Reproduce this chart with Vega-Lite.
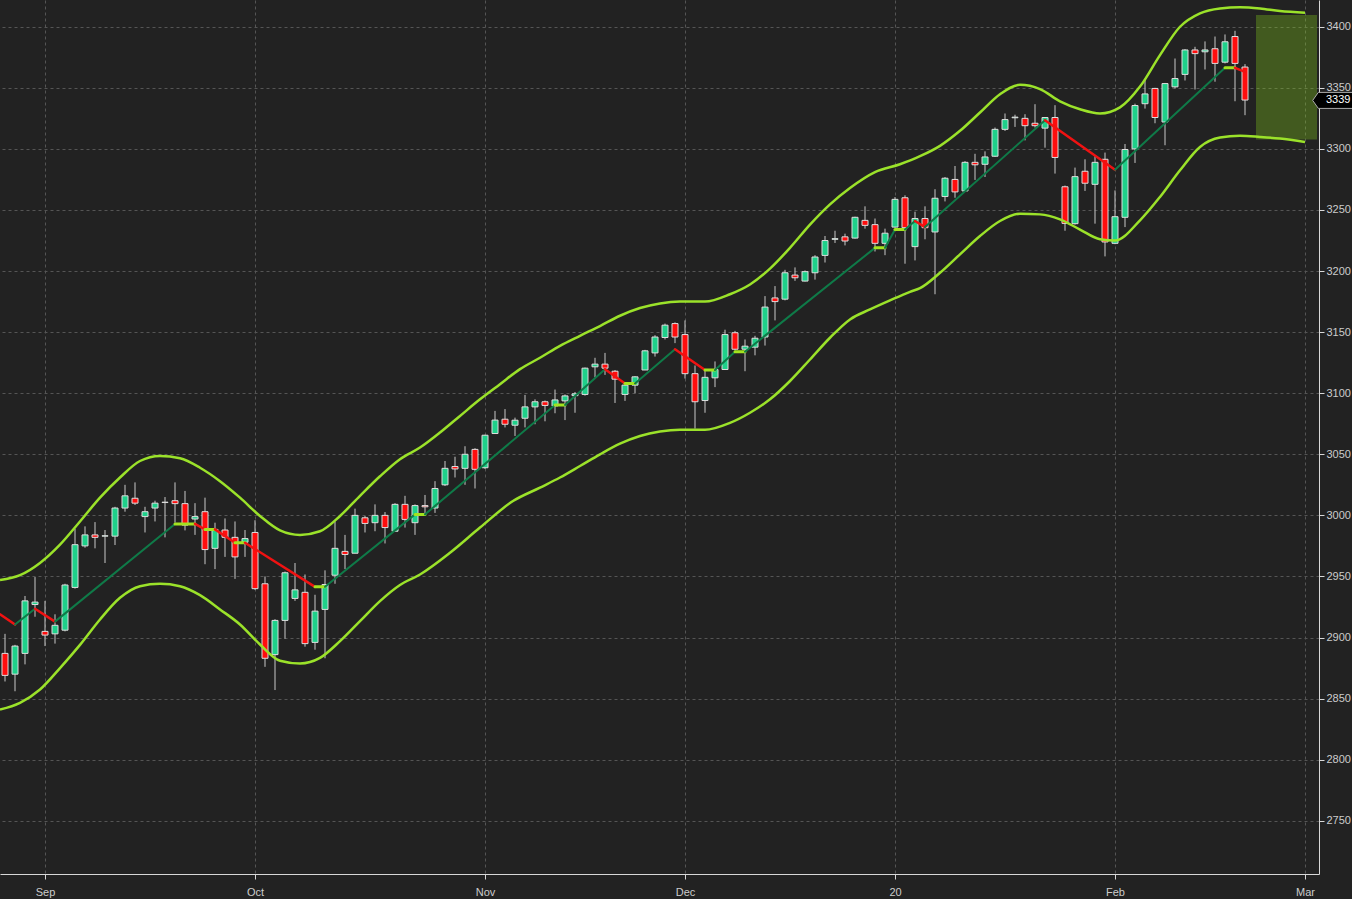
{
  "$schema": "https://vega.github.io/schema/vega-lite/v6.json",
  "width": 1319,
  "height": 874,
  "autosize": {"type": "none"},
  "padding": {"left": 0, "top": 0, "right": 33, "bottom": 25},
  "background": "#222222",
  "config": {
    "view": {"stroke": null},
    "axis": {
      "title": null,
      "grid": true,
      "gridColor": "#555555",
      "gridDash": [3, 3],
      "gridWidth": 1,
      "domainColor": "#d8d8d8",
      "tickColor": "#d8d8d8",
      "tickSize": 5,
      "labelColor": "#cccccc",
      "labelFont": "Liberation Sans",
      "labelFontSize": 11
    }
  },
  "datasets": {
    "candles": [
      {"i": 0, "o": 2887, "h": 2903, "l": 2864, "c": 2869},
      {"i": 1, "o": 2870, "h": 2894, "l": 2856, "c": 2893},
      {"i": 2, "o": 2887, "h": 2934, "l": 2878, "c": 2930},
      {"i": 3, "o": 2927, "h": 2949.5, "l": 2917, "c": 2929},
      {"i": 4, "o": 2905, "h": 2930, "l": 2893, "c": 2902},
      {"i": 5, "o": 2903, "h": 2919, "l": 2895, "c": 2910},
      {"i": 6, "o": 2906, "h": 2944, "l": 2905, "c": 2943},
      {"i": 7, "o": 2941, "h": 2989, "l": 2940, "c": 2976},
      {"i": 8, "o": 2975, "h": 2991, "l": 2973.5, "c": 2984},
      {"i": 9, "o": 2984, "h": 2994.5, "l": 2973, "c": 2982},
      {"i": 10, "o": 2983, "h": 2988, "l": 2961, "c": 2983.3},
      {"i": 11, "o": 2983, "h": 3007, "l": 2975.7, "c": 3006},
      {"i": 12, "o": 3006, "h": 3025, "l": 3003, "c": 3016},
      {"i": 13, "o": 3014, "h": 3027, "l": 3008.5, "c": 3010},
      {"i": 14, "o": 2999, "h": 3007, "l": 2986, "c": 3003},
      {"i": 15, "o": 3006, "h": 3012, "l": 2995, "c": 3010},
      {"i": 16, "o": 3010.5, "h": 3015, "l": 2982, "c": 3010.8},
      {"i": 17, "o": 3012, "h": 3027, "l": 2994, "c": 3009.6},
      {"i": 18, "o": 3009.6, "h": 3020, "l": 2987.7, "c": 2992},
      {"i": 19, "o": 2997, "h": 3010, "l": 2984, "c": 2999},
      {"i": 20, "o": 3003, "h": 3014.5, "l": 2960, "c": 2972},
      {"i": 21, "o": 2973, "h": 2994, "l": 2956, "c": 2988.5},
      {"i": 22, "o": 2988, "h": 2997.5, "l": 2966, "c": 2982},
      {"i": 23, "o": 2982, "h": 2995, "l": 2948, "c": 2966},
      {"i": 24, "o": 2978, "h": 2988, "l": 2966, "c": 2981},
      {"i": 25, "o": 2986, "h": 2996, "l": 2939, "c": 2940},
      {"i": 26, "o": 2944, "h": 2950, "l": 2876, "c": 2883},
      {"i": 27, "o": 2886, "h": 2915, "l": 2857, "c": 2914},
      {"i": 28, "o": 2914, "h": 2954, "l": 2899, "c": 2953},
      {"i": 29, "o": 2932, "h": 2961, "l": 2930, "c": 2939},
      {"i": 30, "o": 2937, "h": 2951.6, "l": 2892.5, "c": 2895},
      {"i": 31, "o": 2896, "h": 2935, "l": 2890, "c": 2921.6},
      {"i": 32, "o": 2923, "h": 2955, "l": 2883, "c": 2943.4},
      {"i": 33, "o": 2951, "h": 2995, "l": 2944, "c": 2973},
      {"i": 34, "o": 2970.5, "h": 2984, "l": 2956, "c": 2968},
      {"i": 35, "o": 2969, "h": 3005.5, "l": 2969, "c": 3000},
      {"i": 36, "o": 2998, "h": 2999.5, "l": 2986, "c": 2993.4},
      {"i": 37, "o": 2994, "h": 3009, "l": 2987, "c": 3000},
      {"i": 38, "o": 3000, "h": 3002.7, "l": 2977, "c": 2990},
      {"i": 39, "o": 2987, "h": 3010, "l": 2986.6, "c": 3009},
      {"i": 40, "o": 3009, "h": 3016, "l": 2990, "c": 2996.7},
      {"i": 41, "o": 2994, "h": 3009, "l": 2984, "c": 3008},
      {"i": 42, "o": 3008, "h": 3016.7, "l": 3001, "c": 3007},
      {"i": 43, "o": 3006, "h": 3028, "l": 3002, "c": 3022},
      {"i": 44, "o": 3025, "h": 3044.5, "l": 3024, "c": 3038.5},
      {"i": 45, "o": 3040, "h": 3048, "l": 3031, "c": 3038},
      {"i": 46, "o": 3038.5, "h": 3056.6, "l": 3025, "c": 3050},
      {"i": 47, "o": 3054, "h": 3055, "l": 3022, "c": 3037.7},
      {"i": 48, "o": 3039, "h": 3066, "l": 3038, "c": 3065.6},
      {"i": 49, "o": 3067, "h": 3085.5, "l": 3067, "c": 3078},
      {"i": 50, "o": 3078.7, "h": 3087, "l": 3072, "c": 3074.6},
      {"i": 51, "o": 3073.8, "h": 3080, "l": 3065, "c": 3077.9},
      {"i": 52, "o": 3079.5, "h": 3098.6, "l": 3072, "c": 3088.8},
      {"i": 53, "o": 3088.8, "h": 3095, "l": 3074.6, "c": 3093},
      {"i": 54, "o": 3093, "h": 3094, "l": 3077, "c": 3090},
      {"i": 55, "o": 3089.6, "h": 3103, "l": 3083.6, "c": 3094.5},
      {"i": 56, "o": 3093.7, "h": 3099, "l": 3078, "c": 3097.8},
      {"i": 57, "o": 3098, "h": 3101, "l": 3084, "c": 3099.5},
      {"i": 58, "o": 3099, "h": 3121, "l": 3098, "c": 3120.5},
      {"i": 59, "o": 3121.6, "h": 3129, "l": 3113, "c": 3123.8},
      {"i": 60, "o": 3123.8, "h": 3133, "l": 3115, "c": 3120.5},
      {"i": 61, "o": 3118, "h": 3119, "l": 3092, "c": 3111.5},
      {"i": 62, "o": 3099, "h": 3108.7, "l": 3093.7, "c": 3106.6},
      {"i": 63, "o": 3106.6, "h": 3114, "l": 3100, "c": 3113.4},
      {"i": 64, "o": 3119, "h": 3135.5, "l": 3119, "c": 3134.7},
      {"i": 65, "o": 3133, "h": 3147.5, "l": 3130, "c": 3146},
      {"i": 66, "o": 3145.6, "h": 3157, "l": 3144, "c": 3155.7},
      {"i": 67, "o": 3157, "h": 3158, "l": 3141, "c": 3146},
      {"i": 68, "o": 3148, "h": 3159.6, "l": 3112, "c": 3116},
      {"i": 69, "o": 3116, "h": 3122.7, "l": 3071, "c": 3093},
      {"i": 70, "o": 3094, "h": 3119, "l": 3084, "c": 3113},
      {"i": 71, "o": 3112.6, "h": 3126, "l": 3105, "c": 3119.4},
      {"i": 72, "o": 3119.4, "h": 3152, "l": 3119, "c": 3148},
      {"i": 73, "o": 3149.5, "h": 3151, "l": 3135, "c": 3136},
      {"i": 74, "o": 3136, "h": 3144, "l": 3118, "c": 3138.5},
      {"i": 75, "o": 3137.7, "h": 3147, "l": 3131, "c": 3145},
      {"i": 76, "o": 3146, "h": 3179.5, "l": 3139, "c": 3170.5},
      {"i": 77, "o": 3178, "h": 3187.7, "l": 3159.6, "c": 3175},
      {"i": 78, "o": 3177, "h": 3201, "l": 3176, "c": 3198.6},
      {"i": 79, "o": 3196.7, "h": 3203, "l": 3192, "c": 3194.5},
      {"i": 80, "o": 3191.8, "h": 3200.5, "l": 3191.5, "c": 3199.5},
      {"i": 81, "o": 3198.6, "h": 3213, "l": 3193, "c": 3211.5},
      {"i": 82, "o": 3212.8, "h": 3228.7, "l": 3207, "c": 3225},
      {"i": 83, "o": 3226, "h": 3233, "l": 3223, "c": 3226.5},
      {"i": 84, "o": 3228, "h": 3230.6, "l": 3221, "c": 3224.6},
      {"i": 85, "o": 3227, "h": 3244.5, "l": 3226.5, "c": 3244},
      {"i": 86, "o": 3241.5, "h": 3253, "l": 3234.7, "c": 3237.4},
      {"i": 87, "o": 3238, "h": 3243, "l": 3216, "c": 3222.7},
      {"i": 88, "o": 3222.7, "h": 3234.7, "l": 3213, "c": 3231},
      {"i": 89, "o": 3236, "h": 3260.6, "l": 3235.5, "c": 3258.7},
      {"i": 90, "o": 3260, "h": 3262, "l": 3206, "c": 3235.5},
      {"i": 91, "o": 3220, "h": 3248.6, "l": 3208.7, "c": 3243},
      {"i": 92, "o": 3243, "h": 3253, "l": 3226, "c": 3235.5},
      {"i": 93, "o": 3232, "h": 3267, "l": 3181, "c": 3259.6},
      {"i": 94, "o": 3261, "h": 3277, "l": 3257, "c": 3276},
      {"i": 95, "o": 3275, "h": 3286, "l": 3260, "c": 3264.8},
      {"i": 96, "o": 3265.6, "h": 3290, "l": 3264.8, "c": 3289},
      {"i": 97, "o": 3289, "h": 3296, "l": 3274.6, "c": 3287},
      {"i": 98, "o": 3287.4, "h": 3298, "l": 3277, "c": 3293.4},
      {"i": 99, "o": 3294, "h": 3317.5, "l": 3293.4, "c": 3316},
      {"i": 100, "o": 3316, "h": 3329, "l": 3314.7, "c": 3324},
      {"i": 101, "o": 3325.5, "h": 3328, "l": 3318, "c": 3326},
      {"i": 102, "o": 3325, "h": 3328.4, "l": 3307, "c": 3319},
      {"i": 103, "o": 3321, "h": 3336.6, "l": 3317.5, "c": 3319},
      {"i": 104, "o": 3317, "h": 3326, "l": 3301, "c": 3325.7},
      {"i": 105, "o": 3325.7, "h": 3335.8, "l": 3279.8, "c": 3293},
      {"i": 106, "o": 3269, "h": 3270, "l": 3233, "c": 3239},
      {"i": 107, "o": 3238.8, "h": 3284.7, "l": 3238, "c": 3277.3},
      {"i": 108, "o": 3281.7, "h": 3291.5, "l": 3265.6, "c": 3271.9},
      {"i": 109, "o": 3271, "h": 3294, "l": 3238.8, "c": 3289},
      {"i": 110, "o": 3291.5, "h": 3297, "l": 3212, "c": 3223.8},
      {"i": 111, "o": 3222.7, "h": 3266, "l": 3222, "c": 3244.5},
      {"i": 112, "o": 3244, "h": 3304, "l": 3236, "c": 3299.5},
      {"i": 113, "o": 3300, "h": 3337, "l": 3288.5, "c": 3335.5},
      {"i": 114, "o": 3337, "h": 3357, "l": 3333, "c": 3345},
      {"i": 115, "o": 3349.5, "h": 3350, "l": 3321, "c": 3325.7},
      {"i": 116, "o": 3322, "h": 3354, "l": 3303, "c": 3353.5},
      {"i": 117, "o": 3350.8, "h": 3374, "l": 3349.5, "c": 3357.6},
      {"i": 118, "o": 3361, "h": 3381.7, "l": 3356, "c": 3381},
      {"i": 119, "o": 3381, "h": 3383.6, "l": 3348.6, "c": 3378},
      {"i": 120, "o": 3379.5, "h": 3388, "l": 3365, "c": 3381},
      {"i": 121, "o": 3382, "h": 3392, "l": 3355, "c": 3370},
      {"i": 122, "o": 3371, "h": 3393.7, "l": 3370, "c": 3387.7},
      {"i": 123, "o": 3392, "h": 3396.7, "l": 3339, "c": 3370},
      {"i": 124, "o": 3367, "h": 3369.4, "l": 3327.6, "c": 3340}
    ],
    "trend": [
      {"s": 0, "i": -0.5, "v": 2919, "t": "down"}, {"s": 0, "i": 1, "v": 2910.6, "t": "down"},
      {"s": 1, "i": 1, "v": 2910.6, "t": "up"}, {"s": 1, "i": 3, "v": 2923.5, "t": "up"},
      {"s": 2, "i": 3, "v": 2923.5, "t": "down"}, {"s": 2, "i": 5, "v": 2913, "t": "down"},
      {"s": 3, "i": 5, "v": 2913, "t": "up"}, {"s": 3, "i": 17, "v": 2993, "t": "up"},
      {"s": 4, "i": 17, "v": 2993, "t": "flat"}, {"s": 4, "i": 19, "v": 2993, "t": "flat"},
      {"s": 5, "i": 19, "v": 2993, "t": "down"}, {"s": 5, "i": 20, "v": 2988.5, "t": "down"},
      {"s": 6, "i": 20, "v": 2988.5, "t": "flat"}, {"s": 6, "i": 21, "v": 2988.5, "t": "flat"},
      {"s": 7, "i": 21, "v": 2988.5, "t": "down"}, {"s": 7, "i": 23, "v": 2977.6, "t": "down"},
      {"s": 8, "i": 23, "v": 2977.6, "t": "flat"}, {"s": 8, "i": 24, "v": 2977.6, "t": "flat"},
      {"s": 9, "i": 24, "v": 2977.6, "t": "down"}, {"s": 9, "i": 31, "v": 2941.5, "t": "down"},
      {"s": 10, "i": 31, "v": 2941.5, "t": "flat"}, {"s": 10, "i": 32, "v": 2941.5, "t": "flat"},
      {"s": 11, "i": 32, "v": 2941.5, "t": "up"}, {"s": 11, "i": 41, "v": 3000.8, "t": "up"},
      {"s": 12, "i": 41, "v": 3000.8, "t": "flat"}, {"s": 12, "i": 42, "v": 3000.8, "t": "flat"},
      {"s": 13, "i": 42, "v": 3000.8, "t": "up"}, {"s": 13, "i": 55, "v": 3090.4, "t": "up"},
      {"s": 14, "i": 55, "v": 3090.4, "t": "flat"}, {"s": 14, "i": 56, "v": 3090.4, "t": "flat"},
      {"s": 15, "i": 56, "v": 3090.4, "t": "up"}, {"s": 15, "i": 60, "v": 3119.7, "t": "up"},
      {"s": 16, "i": 60, "v": 3119.7, "t": "down"}, {"s": 16, "i": 62, "v": 3108, "t": "down"},
      {"s": 17, "i": 62, "v": 3108, "t": "flat"}, {"s": 17, "i": 63, "v": 3108, "t": "flat"},
      {"s": 18, "i": 63, "v": 3108, "t": "up"}, {"s": 18, "i": 67, "v": 3136, "t": "up"},
      {"s": 19, "i": 67, "v": 3136, "t": "down"}, {"s": 19, "i": 70, "v": 3119, "t": "down"},
      {"s": 20, "i": 70, "v": 3119, "t": "flat"}, {"s": 20, "i": 71, "v": 3119, "t": "flat"},
      {"s": 21, "i": 71, "v": 3119, "t": "up"}, {"s": 21, "i": 73, "v": 3134, "t": "up"},
      {"s": 22, "i": 73, "v": 3134, "t": "flat"}, {"s": 22, "i": 74, "v": 3134, "t": "flat"},
      {"s": 23, "i": 74, "v": 3134, "t": "up"}, {"s": 23, "i": 87, "v": 3219, "t": "up"},
      {"s": 24, "i": 87, "v": 3219, "t": "flat"}, {"s": 24, "i": 88, "v": 3219, "t": "flat"},
      {"s": 25, "i": 88, "v": 3219, "t": "up"}, {"s": 25, "i": 89, "v": 3234, "t": "up"},
      {"s": 26, "i": 89, "v": 3234, "t": "flat"}, {"s": 26, "i": 90, "v": 3234, "t": "flat"},
      {"s": 27, "i": 90, "v": 3234, "t": "up"}, {"s": 27, "i": 91, "v": 3241, "t": "up"},
      {"s": 28, "i": 91, "v": 3241, "t": "down"}, {"s": 28, "i": 92, "v": 3236, "t": "down"},
      {"s": 29, "i": 92, "v": 3236, "t": "up"}, {"s": 29, "i": 104, "v": 3323.5, "t": "up"},
      {"s": 30, "i": 104, "v": 3323.5, "t": "down"}, {"s": 30, "i": 111, "v": 3283, "t": "down"},
      {"s": 31, "i": 111, "v": 3283, "t": "up"}, {"s": 31, "i": 122, "v": 3366.4, "t": "up"},
      {"s": 32, "i": 122, "v": 3366.4, "t": "flat"}, {"s": 32, "i": 123, "v": 3366.4, "t": "flat"},
      {"s": 33, "i": 123, "v": 3366.4, "t": "down"}, {"s": 33, "i": 124, "v": 3363, "t": "down"}
    ],
    "bands": [
      {"b": "upper", "i": -0.5, "v": 2947}, {"b": "upper", "i": 1.5, "v": 2951},
      {"b": "upper", "i": 3.5, "v": 2961}, {"b": "upper", "i": 5.5, "v": 2976},
      {"b": "upper", "i": 7.5, "v": 2995}, {"b": "upper", "i": 9.5, "v": 3014.5},
      {"b": "upper", "i": 11.5, "v": 3031}, {"b": "upper", "i": 13.5, "v": 3044.5},
      {"b": "upper", "i": 15.5, "v": 3048.6}, {"b": "upper", "i": 17.5, "v": 3046.7},
      {"b": "upper", "i": 19.5, "v": 3039}, {"b": "upper", "i": 21.5, "v": 3028},
      {"b": "upper", "i": 23.5, "v": 3014.5}, {"b": "upper", "i": 25.5, "v": 2999.5},
      {"b": "upper", "i": 27.5, "v": 2987.7}, {"b": "upper", "i": 29.5, "v": 2984},
      {"b": "upper", "i": 31.5, "v": 2987}, {"b": "upper", "i": 33.5, "v": 2999.5},
      {"b": "upper", "i": 35.5, "v": 3016}, {"b": "upper", "i": 37.5, "v": 3032},
      {"b": "upper", "i": 39.5, "v": 3046}, {"b": "upper", "i": 41.5, "v": 3055.5},
      {"b": "upper", "i": 43.5, "v": 3067.8}, {"b": "upper", "i": 45.5, "v": 3081.4},
      {"b": "upper", "i": 47.5, "v": 3095}, {"b": "upper", "i": 49.5, "v": 3107.4},
      {"b": "upper", "i": 51.5, "v": 3119.7}, {"b": "upper", "i": 53.5, "v": 3129},
      {"b": "upper", "i": 55.5, "v": 3138.8}, {"b": "upper", "i": 57.5, "v": 3147},
      {"b": "upper", "i": 59.5, "v": 3155}, {"b": "upper", "i": 61.5, "v": 3163.4},
      {"b": "upper", "i": 63.5, "v": 3169.7}, {"b": "upper", "i": 65.5, "v": 3173.5},
      {"b": "upper", "i": 67.5, "v": 3175}, {"b": "upper", "i": 70, "v": 3175},
      {"b": "upper", "i": 72.5, "v": 3181}, {"b": "upper", "i": 74.5, "v": 3189},
      {"b": "upper", "i": 76.5, "v": 3202}, {"b": "upper", "i": 78.5, "v": 3219},
      {"b": "upper", "i": 80.5, "v": 3238}, {"b": "upper", "i": 82.5, "v": 3254.6},
      {"b": "upper", "i": 84.5, "v": 3268}, {"b": "upper", "i": 87, "v": 3281},
      {"b": "upper", "i": 89.5, "v": 3287.4}, {"b": "upper", "i": 91.5, "v": 3294},
      {"b": "upper", "i": 93.5, "v": 3302.5}, {"b": "upper", "i": 95.5, "v": 3314.8},
      {"b": "upper", "i": 97.5, "v": 3329.8}, {"b": "upper", "i": 99.5, "v": 3344.8},
      {"b": "upper", "i": 101.5, "v": 3352.5}, {"b": "upper", "i": 103.5, "v": 3349},
      {"b": "upper", "i": 105.5, "v": 3339}, {"b": "upper", "i": 107.5, "v": 3332.5},
      {"b": "upper", "i": 109.5, "v": 3329}, {"b": "upper", "i": 111.5, "v": 3334},
      {"b": "upper", "i": 113.5, "v": 3351}, {"b": "upper", "i": 115.5, "v": 3376.8},
      {"b": "upper", "i": 117.5, "v": 3400}, {"b": "upper", "i": 119.5, "v": 3411},
      {"b": "upper", "i": 121.5, "v": 3415}, {"b": "upper", "i": 123.5, "v": 3416},
      {"b": "upper", "i": 125.5, "v": 3415}, {"b": "upper", "i": 127.5, "v": 3412.8},
      {"b": "upper", "i": 130, "v": 3411.5},
      {"b": "lower", "i": -0.5, "v": 2841}, {"b": "lower", "i": 1.5, "v": 2846.5},
      {"b": "lower", "i": 3.5, "v": 2857.4}, {"b": "lower", "i": 5.5, "v": 2875},
      {"b": "lower", "i": 7.5, "v": 2894}, {"b": "lower", "i": 9.5, "v": 2914.8},
      {"b": "lower", "i": 11.5, "v": 2932.5}, {"b": "lower", "i": 13.5, "v": 2942},
      {"b": "lower", "i": 15.5, "v": 2944}, {"b": "lower", "i": 17.5, "v": 2942},
      {"b": "lower", "i": 19.5, "v": 2934.7}, {"b": "lower", "i": 21.5, "v": 2923},
      {"b": "lower", "i": 23.5, "v": 2910.7}, {"b": "lower", "i": 25.5, "v": 2894.3},
      {"b": "lower", "i": 27.5, "v": 2881}, {"b": "lower", "i": 29.5, "v": 2878.7},
      {"b": "lower", "i": 31.5, "v": 2883.3}, {"b": "lower", "i": 33.5, "v": 2897},
      {"b": "lower", "i": 35.5, "v": 2913.4}, {"b": "lower", "i": 37.5, "v": 2929.8},
      {"b": "lower", "i": 39.5, "v": 2943}, {"b": "lower", "i": 41.5, "v": 2951.6},
      {"b": "lower", "i": 44.5, "v": 2969.4}, {"b": "lower", "i": 47.5, "v": 2990},
      {"b": "lower", "i": 50.8, "v": 3011.7}, {"b": "lower", "i": 53.5, "v": 3022.7},
      {"b": "lower", "i": 55.5, "v": 3031}, {"b": "lower", "i": 57.5, "v": 3040.4},
      {"b": "lower", "i": 59.5, "v": 3050}, {"b": "lower", "i": 61.5, "v": 3058.7},
      {"b": "lower", "i": 63.5, "v": 3065}, {"b": "lower", "i": 65.5, "v": 3068.6},
      {"b": "lower", "i": 67.5, "v": 3070}, {"b": "lower", "i": 70, "v": 3070},
      {"b": "lower", "i": 72.5, "v": 3075.7}, {"b": "lower", "i": 74.5, "v": 3084},
      {"b": "lower", "i": 76.5, "v": 3095}, {"b": "lower", "i": 78.5, "v": 3110},
      {"b": "lower", "i": 80.5, "v": 3127.6}, {"b": "lower", "i": 82.5, "v": 3145.4},
      {"b": "lower", "i": 84.5, "v": 3160.4}, {"b": "lower", "i": 86.5, "v": 3168.6},
      {"b": "lower", "i": 88.5, "v": 3176}, {"b": "lower", "i": 90.5, "v": 3183},
      {"b": "lower", "i": 91.5, "v": 3186}, {"b": "lower", "i": 93.5, "v": 3198.6},
      {"b": "lower", "i": 95.5, "v": 3213.7}, {"b": "lower", "i": 97.5, "v": 3228.7},
      {"b": "lower", "i": 99.5, "v": 3241}, {"b": "lower", "i": 101.5, "v": 3247},
      {"b": "lower", "i": 103.5, "v": 3246.4}, {"b": "lower", "i": 105.5, "v": 3242.3},
      {"b": "lower", "i": 107.5, "v": 3234}, {"b": "lower", "i": 109.5, "v": 3226},
      {"b": "lower", "i": 111, "v": 3225}, {"b": "lower", "i": 113.5, "v": 3241.5},
      {"b": "lower", "i": 115.5, "v": 3260.7}, {"b": "lower", "i": 117.5, "v": 3282.5},
      {"b": "lower", "i": 119.5, "v": 3301.6}, {"b": "lower", "i": 121.5, "v": 3309.3},
      {"b": "lower", "i": 123.5, "v": 3310.7}, {"b": "lower", "i": 125.5, "v": 3309.8},
      {"b": "lower", "i": 127.5, "v": 3308.5}, {"b": "lower", "i": 130, "v": 3305.7}
    ],
    "zone": [{"i0": 125.1, "i1": 131.2, "top": 3409.6, "bottom": 3307.8}],
    "last": [{"price": 3339.7, "label": "3339"}]
  },
  "layer": [
    {
      "data": {"name": "zone"},
      "mark": {"type": "rect", "fill": "#86cf1a", "opacity": 0.33},
      "encoding": {
        "x": {
          "field": "i0", "type": "quantitative",
          "scale": {"domain": [-0.5, 131.4], "nice": false, "zero": false, "padding": 0},
          "axis": {
            "orient": "bottom",
            "values": [4, 25, 48, 68, 89, 111, 130],
            "labelExpr": "datum.value == 4 ? 'Sep' : datum.value == 25 ? 'Oct' : datum.value == 48 ? 'Nov' : datum.value == 68 ? 'Dec' : datum.value == 89 ? '20' : datum.value == 111 ? 'Feb' : 'Mar'",
            "labelPadding": 7
          }
        },
        "x2": {"field": "i1"},
        "y": {
          "field": "top", "type": "quantitative",
          "scale": {"domain": [2706.4, 3421.9], "nice": false, "zero": false, "padding": 0},
          "axis": {
            "orient": "right",
            "format": "d",
            "values": [2750, 2800, 2850, 2900, 2950, 3000, 3050, 3100, 3150, 3200, 3250, 3300, 3350, 3400],
            "labelPadding": 2
          }
        },
        "y2": {"field": "bottom"}
      }
    },
    {
      "data": {"name": "candles"},
      "mark": {"type": "rule", "stroke": "#c8c8c8", "strokeWidth": 1},
      "encoding": {
        "x": {"field": "i", "type": "quantitative"},
        "y": {"field": "l", "type": "quantitative"},
        "y2": {"field": "h"}
      }
    },
    {
      "data": {"name": "candles"},
      "mark": {"type": "bar", "size": 6, "stroke": "#dddddd", "strokeWidth": 1},
      "encoding": {
        "x": {"field": "i", "type": "quantitative"},
        "y": {"field": "o", "type": "quantitative"},
        "y2": {"field": "c"},
        "fill": {
          "condition": {"test": "datum.c >= datum.o", "value": "#1fd08a"},
          "value": "#ff0d0d"
        }
      }
    },
    {
      "data": {"name": "trend"},
      "mark": {"type": "line", "strokeCap": "round"},
      "encoding": {
        "x": {"field": "i", "type": "quantitative"},
        "y": {"field": "v", "type": "quantitative"},
        "detail": {"field": "s", "type": "nominal"},
        "color": {
          "field": "t", "type": "nominal", "legend": null,
          "scale": {"domain": ["up", "down", "flat"], "range": ["#0f7a48", "#f01212", "#a3e31f"]}
        },
        "size": {
          "field": "t", "type": "nominal", "legend": null,
          "scale": {"domain": ["up", "down", "flat"], "range": [2, 3, 3]}
        }
      }
    },
    {
      "data": {"name": "bands"},
      "mark": {"type": "line", "interpolate": "monotone", "stroke": "#9be22a", "strokeWidth": 2.5},
      "encoding": {
        "x": {"field": "i", "type": "quantitative"},
        "y": {"field": "v", "type": "quantitative"},
        "detail": {"field": "b", "type": "nominal"}
      }
    },
    {
      "data": {"name": "last"},
      "mark": {
        "type": "point",
        "shape": "M 0 0 L 0.7 -1 L 5 -1 L 5 1 L 0.7 1 Z",
        "size": 256,
        "filled": true,
        "fill": "#000000",
        "stroke": "#aaaaaa",
        "strokeWidth": 1,
        "opacity": 1
      },
      "encoding": {
        "x": {"datum": 130.77, "type": "quantitative"},
        "y": {"field": "price", "type": "quantitative"}
      }
    },
    {
      "data": {"name": "last"},
      "mark": {
        "type": "text",
        "align": "left",
        "baseline": "middle",
        "color": "#ffffff",
        "font": "Liberation Sans",
        "fontSize": 11
      },
      "encoding": {
        "x": {"datum": 132.1, "type": "quantitative"},
        "y": {"field": "price", "type": "quantitative"},
        "text": {"field": "label"}
      }
    }
  ]
}
